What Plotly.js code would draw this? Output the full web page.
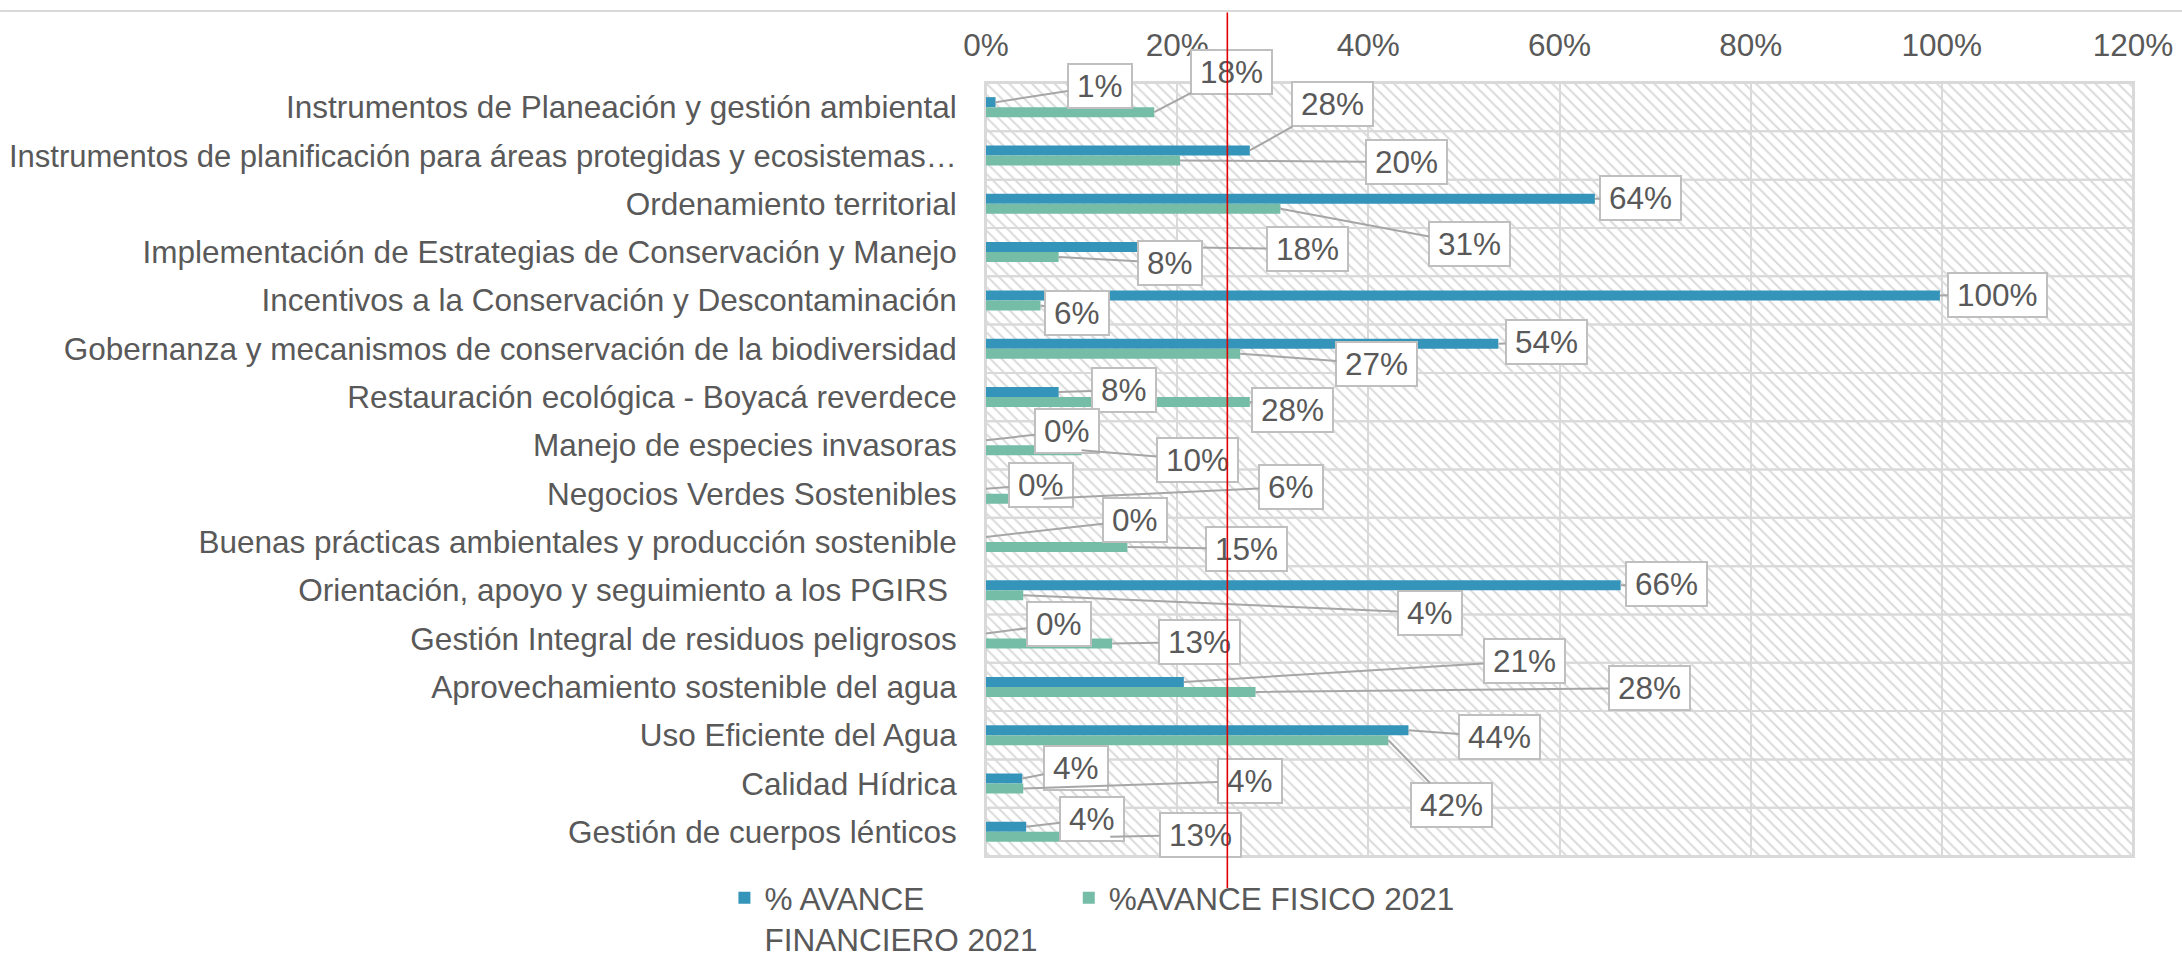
<!DOCTYPE html>
<html>
<head>
<meta charset="utf-8">
<script src="https://cdn.plot.ly/plotly-3.0.1.min.js"></script>
<style>
  html, body { margin: 0; padding: 0; background: #fff; }
  #chart { width: 2182px; height: 957px; }
</style>
</head>
<body>
<div id="chart"></div>
<script>
const categories = [
  'Instrumentos de Planeación y gestión ambiental',
  'Instrumentos de planificación para áreas protegidas y ecosistemas…',
  'Ordenamiento territorial',
  'Implementación de Estrategias de Conservación y Manejo',
  'Incentivos a la Conservación y Descontaminación',
  'Gobernanza y mecanismos de conservación de la biodiversidad',
  'Restauración ecológica - Boyacá reverdece',
  'Manejo de especies invasoras',
  'Negocios Verdes Sostenibles',
  'Buenas prácticas ambientales y producción sostenible',
  'Orientación, apoyo y seguimiento a los PGIRS ',
  'Gestión Integral de residuos peligrosos',
  'Aprovechamiento sostenible del agua',
  'Uso Eficiente del Agua',
  'Calidad Hídrica',
  'Gestión de cuerpos lénticos'
];

// % AVANCE FINANCIERO 2021
const financiero = [0.010, 0.276, 0.637, 0.18, 0.998, 0.536, 0.076, 0, 0, 0, 0.664, 0, 0.207, 0.442, 0.038, 0.042];
// %AVANCE FISICO 2021
const fisico = [0.176, 0.203, 0.308, 0.076, 0.057, 0.266, 0.276, 0.10, 0.06, 0.148, 0.039, 0.132, 0.282, 0.421, 0.039, 0.13];

const seriesNames = ['% AVANCE<br>FINANCIERO 2021\u00a0\u00a0\u00a0', '%AVANCE FISICO 2021'];
const xTicks = [0, 0.2, 0.4, 0.6, 0.8, 1.0, 1.2];
const refValue = 0.2525;   // red reference line

// where the callout boxes sit (x in value units, y in category units)
const finLabelX = [0.119, 0.362, 0.685, 0.336, 1.058, 0.586, 0.144, 0.0845, 0.0574, 0.156, 0.712, 0.0762, 0.563, 0.537, 0.0939, 0.111];
const finLabelY = [-0.44, -0.056, 1.88, 2.935, 3.887, 4.86, 5.854, 6.703, 7.82, 8.545, 9.87, 10.697, 11.463, 13.036, 13.678, 14.734];
const fisLabelX = [0.257, 0.44, 0.506, 0.192, 0.095, 0.409, 0.321, 0.221, 0.319, 0.273, 0.464, 0.223, 0.694, 0.487, 0.276, 0.224];
const fisLabelY = [-0.73, 1.134, 2.832, 3.225, 4.26, 5.315, 6.268, 7.303, 7.862, 9.145, 10.47, 11.07, 12.022, 14.444, 13.947, 15.065];

const FONT = '"Liberation Sans", Arial, sans-serif';
const FS = 31.5;
const GREY_TEXT = '#595959';
const BLUE = '#3494ba';
const GREEN = '#75bda7';
const BAR_W = 0.207;

const xMax = xTicks[xTicks.length - 1];

// the long truncated label is a touch smaller so it fits like the original
const tickText = categories.map((c, i) => i === 1 ? '<span style="font-size:31px">' + c + '</span>' : c);

const background = {
  type: 'bar',
  orientation: 'h',
  y: categories,
  x: categories.map(() => xMax),
  width: 1,
  offset: -0.5,
  marker: {
    color: 'rgba(255,255,255,0)',
    pattern: { shape: '\\', fgcolor: '#dadada', size: 8, solidity: 0.25, fillmode: 'replace' },
    line: { color: '#d9d9d9', width: 2 }
  },
  showlegend: false,
  hoverinfo: 'skip'
};

const finTrace = {
  type: 'bar',
  orientation: 'h',
  name: seriesNames[0],
  y: categories,
  x: financiero,
  width: BAR_W,
  offset: -BAR_W,
  marker: { color: BLUE },
  hoverinfo: 'skip'
};

const fisTrace = {
  type: 'bar',
  orientation: 'h',
  name: seriesNames[1],
  y: categories,
  x: fisico,
  width: BAR_W,
  offset: 0,
  marker: { color: GREEN },
  hoverinfo: 'skip'
};

function callout(v, yPos, lx, ly) {
  const txt = Math.round(v * 100) + '%';
  const digits = txt.length - 1;
  return {
    x: v, y: yPos, xref: 'x', yref: 'y',
    ax: lx, ay: ly, axref: 'x', ayref: 'y',
    text: txt,
    width: (digits * 0.556 + 0.889) * FS + 14,
    height: 40,
    showarrow: true, arrowhead: 0, arrowwidth: 2, arrowcolor: '#a6a6a6',
    bgcolor: '#ffffff', bordercolor: '#bfbfbf', borderwidth: 2, borderpad: 1,
    font: { family: FONT, size: FS, color: GREY_TEXT }
  };
}

const annotations = [];
categories.forEach((c, i) => {
  annotations.push(callout(financiero[i], i - BAR_W / 2, finLabelX[i], finLabelY[i]));
  annotations.push(callout(fisico[i], i + BAR_W / 2, fisLabelX[i], fisLabelY[i]));
});

// red reference line, drawn last so it sits over the callouts
annotations.push({
  x: refValue, xref: 'x', y: -0.0414, yref: 'paper',
  ax: 0, ay: -877, axref: 'pixel', ayref: 'pixel',
  text: '', showarrow: true, arrowhead: 0, arrowwidth: 1.6, arrowcolor: '#e00000'
});

const layout = {
  width: 2182,
  height: 957,
  margin: { l: 986, r: 49, t: 83, b: 101 },
  paper_bgcolor: '#ffffff',
  plot_bgcolor: '#ffffff',
  font: { family: FONT, size: FS, color: GREY_TEXT },
  barmode: 'overlay',
  hovermode: false,
  xaxis: {
    side: 'top',
    range: [0, xMax],
    tickvals: xTicks,
    tickformat: '.0%',
    showgrid: true,
    gridcolor: '#d9d9d9',
    gridwidth: 2,
    zeroline: false,
    showline: true,
    mirror: true,
    linecolor: '#d9d9d9',
    linewidth: 2,
    ticks: '',
    ticklabelstandoff: 12,
    tickfont: { family: FONT, size: FS, color: GREY_TEXT },
    fixedrange: true
  },
  yaxis: {
    type: 'category',
    range: [categories.length - 0.5, -0.5],
    tickvals: categories,
    ticktext: tickText,
    showgrid: false,
    zeroline: false,
    showline: true,
    mirror: true,
    linecolor: '#d9d9d9',
    linewidth: 2,
    ticks: '',
    ticklabelstandoff: 21,
    tickfont: { family: FONT, size: FS, color: GREY_TEXT },
    fixedrange: true
  },
  legend: {
    orientation: 'h',
    xref: 'container',
    yref: 'container',
    x: 0.332,
    y: 0.09,
    xanchor: 'left',
    yanchor: 'top',
    valign: 'top',
    font: { family: FONT, size: FS, color: GREY_TEXT },
    bgcolor: 'rgba(0,0,0,0)'
  },
  shapes: [{
    type: 'line', xref: 'paper', yref: 'paper',
    x0: -0.8596, x1: 1.0427, y0: 1.0931, y1: 1.0931,
    line: { color: '#d9d9d9', width: 2 }
  }],
  annotations: annotations,
  showlegend: true
};

Plotly.newPlot('chart', [background, finTrace, fisTrace], layout, { displayModeBar: false, staticPlot: true });
</script>
</body>
</html>
